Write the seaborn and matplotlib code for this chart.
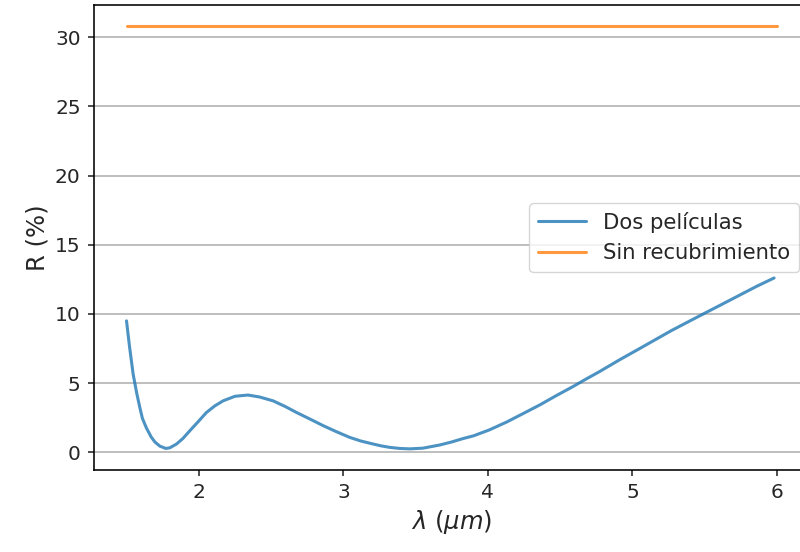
import numpy as np
import pandas as pd
import matplotlib
matplotlib.use("Agg")
import matplotlib.pyplot as plt
import seaborn as sns

# ---- data ----
lam_dos = [1.50, 1.52, 1.546, 1.57, 1.592, 1.61, 1.638, 1.67, 1.696, 1.73,
           1.772, 1.80, 1.846, 1.89, 1.938, 1.99, 2.053, 2.11, 2.168, 2.25,
           2.34, 2.42, 2.514, 2.60, 2.676, 2.77, 2.86, 2.95, 3.044, 3.12,
           3.206, 3.26, 3.32, 3.39, 3.46, 3.55, 3.667, 3.75, 3.83, 3.90,
           4.01, 4.13, 4.24, 4.36, 4.47, 4.59, 4.68, 4.77, 4.91, 5.05,
           5.16, 5.27, 5.38, 5.49, 5.62, 5.74, 5.86, 5.98]
r_dos = [9.5, 7.7, 5.64, 4.3, 3.24, 2.45, 1.75, 1.12, 0.75, 0.45,
         0.28, 0.33, 0.6, 1.0, 1.56, 2.15, 2.88, 3.35, 3.72, 4.05,
         4.14, 4.0, 3.72, 3.3, 2.88, 2.4, 1.93, 1.5, 1.08, 0.82,
         0.6, 0.47, 0.36, 0.28, 0.25, 0.3, 0.53, 0.75, 1.0, 1.19,
         1.62, 2.19, 2.78, 3.43, 4.08, 4.76, 5.3, 5.82, 6.68, 7.5,
         8.15, 8.8, 9.4, 10.0, 10.7, 11.35, 12.0, 12.6]
lam_sin = [1.5, 6.0]
r_sin = [30.8, 30.8]
series = ["Dos películas", "Sin recubrimiento"]
colors = ["#1f77b4", "#ff7f0e"]

df = pd.concat([
    pd.DataFrame({"lam": lam_dos, "R": r_dos, "serie": series[0]}),
    pd.DataFrame({"lam": lam_sin, "R": r_sin, "serie": series[1]}),
])

sns.set_theme(style="ticks", rc={
    "axes.edgecolor": "black",
    "axes.linewidth": 1.15,
    "xtick.major.width": 1.15,
    "ytick.major.width": 1.15,
    "xtick.major.size": 4.6,
    "ytick.major.size": 4.6,
    "xtick.color": "#262626",
    "ytick.color": "#262626",
    "xtick.labelsize": 14.5,
    "ytick.labelsize": 14.5,
    "grid.color": "#b0b0b0",
    "grid.linewidth": 1.15,
})
plt.rcParams["font.family"] = ["DejaVu Sans"]
plt.rcParams["mathtext.fontset"] = "dejavusans"

fig = plt.figure(figsize=(8.0, 5.52), dpi=100)
ax = fig.add_axes([94 / 800, (552 - 470) / 552, (809.5 - 94) / 800, (470 - 5) / 552])

sns.lineplot(data=df, x="lam", y="R", hue="serie", palette=colors,
             alpha=0.8, linewidth=2.2, ax=ax, sort=False)

ax.yaxis.grid(True)
ax.xaxis.grid(False)
ax.set_axisbelow(True)
ax.set_xticks([2, 3, 4, 5, 6])
ax.set_yticks([0, 5, 10, 15, 20, 25, 30])
ax.set_xlabel(r"$\lambda\ (\mu m)$", fontsize=17.5)
ax.set_ylabel("R (%)", fontsize=17.5)
ax.tick_params(axis="both", pad=5)

leg = ax.get_legend()
handles = leg.legend_handles
labels = [t.get_text() for t in leg.get_texts()]
leg.remove()
for h in handles:
    h.set_linewidth(2.2)
ax.legend(handles, labels, loc="center right", fontsize=15.2,
          frameon=True, framealpha=0.8, edgecolor="#cccccc", fancybox=True,
          handlelength=2.3)

fig.savefig("out.png", dpi=100)
